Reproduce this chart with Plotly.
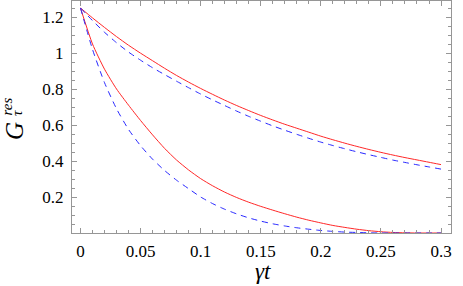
import plotly.graph_objects as go

# gamma*t sample points
t_vals = [0, 0.01, 0.02, 0.03, 0.04, 0.05, 0.06, 0.07, 0.08, 0.09, 0.10,
          0.11, 0.12, 0.13, 0.14, 0.15, 0.16, 0.17, 0.18, 0.19, 0.20,
          0.21, 0.22, 0.23, 0.24, 0.25, 0.26, 0.27, 0.28, 0.29, 0.30]

# upper pair (slow decay)
red_upper = [1.25, 1.195, 1.142, 1.091, 1.043, 0.999, 0.957, 0.915, 0.875, 0.838, 0.803,
             0.770, 0.738, 0.708, 0.680, 0.653, 0.628, 0.604, 0.582, 0.560, 0.538,
             0.518, 0.499, 0.481, 0.464, 0.448, 0.433, 0.419, 0.406, 0.393, 0.380]
blue_upper = [1.25, 1.180, 1.115, 1.057, 1.005, 0.960, 0.918, 0.880, 0.843, 0.807, 0.772,
              0.739, 0.708, 0.677, 0.648, 0.621, 0.595, 0.571, 0.548, 0.526, 0.505,
              0.486, 0.468, 0.451, 0.435, 0.420, 0.405, 0.392, 0.379, 0.367, 0.355]

# lower pair (fast decay)
red_lower = [1.25, 1.05, 0.91, 0.80, 0.71, 0.625, 0.545, 0.470, 0.405, 0.350, 0.302,
             0.262, 0.227, 0.197, 0.171, 0.148, 0.127, 0.107, 0.088, 0.071, 0.056,
             0.042, 0.031, 0.021, 0.013, 0.007, 0.003, 0.001, 0.0, 0.0, 0.0]
blue_lower = [1.25, 1.02, 0.835, 0.69, 0.575, 0.485, 0.410, 0.347, 0.293, 0.246, 0.200,
              0.163, 0.132, 0.106, 0.084, 0.066, 0.051, 0.039, 0.029, 0.021, 0.014,
              0.009, 0.005, 0.003, 0.001, 0.0, 0.0, 0.0, 0.0, 0.0, 0.0]

x_ticks = [0, 0.05, 0.1, 0.15, 0.2, 0.25, 0.3]
x_tick_labels = ["0", "0.05", "0.1", "0.15", "0.2", "0.25", "0.3"]
y_ticks = [0.2, 0.4, 0.6, 0.8, 1.0, 1.2]
y_tick_labels = ["0.2", "0.4", "0.6", "0.8", "1", "1.2"]

RED = "rgb(255,40,40)"
BLUE = "rgb(40,40,255)"

fig = go.Figure()
for ys, col, dash in [(red_upper, RED, "solid"), (blue_upper, BLUE, "6px,5px"),
                      (red_lower, RED, "solid"), (blue_lower, BLUE, "6px,5px")]:
    fig.add_trace(go.Scatter(x=t_vals, y=ys, mode="lines",
                             line=dict(color=col, width=1, dash=dash, shape="spline", smoothing=0.6),
                             showlegend=False, hoverinfo="skip"))

FONT = "Liberation Serif, Times New Roman, serif"
AX = "rgb(150,150,150)"
common = dict(showline=True, linecolor=AX, linewidth=1, mirror="ticks", ticks="inside",
              tickcolor=AX, ticklen=5, tickwidth=1, showgrid=False, zeroline=False,
              automargin=False,
              tickfont=dict(family=FONT, size=17, color="black"))

fig.update_xaxes(range=[-0.00706, 0.3083], tickvals=x_ticks, ticktext=x_tick_labels,
                 minor=dict(dtick=0.01, tick0=0, ticks="inside", ticklen=3, tickcolor=AX, showgrid=False),
                 ticklabelstandoff=3, **common)
fig.update_yaxes(range=[0, 1.2889], tickvals=y_ticks, ticktext=y_tick_labels,
                 minor=dict(dtick=0.05, tick0=0, ticks="inside", ticklen=3, tickcolor=AX, showgrid=False),
                 ticklabelstandoff=4, **common)

W, H = 463, 286
L, R, T, B = 72, 12, 1, 53
pw, ph = W - L - R, H - T - B


def px(xp, yp):
    return (xp - L) / pw, (H - B - yp) / ph


annots = []
gx, gy = px(14.5, 131.5)
annots.append(dict(text="<i>G</i>", x=gx, y=gy, font=dict(family=FONT, size=25, color="black")))
rx, ry = px(6, 106.5)
annots.append(dict(text="<i>res</i>", x=rx, y=ry, font=dict(family=FONT, size=15, color="black")))
tx, ty = px(16.5, 112.5)
annots.append(dict(text="<i>τ</i>", x=tx, y=ty, font=dict(family=FONT, size=15, color="black")))
for a in annots:
    a.update(xref="paper", yref="paper", showarrow=False, textangle=-90,
             xanchor="center", yanchor="middle")
lx, ly = px(263, 271)
annots.append(dict(text="<i>γt</i>", x=lx, y=ly, xref="paper", yref="paper", showarrow=False,
                   xanchor="center", yanchor="middle", font=dict(family=FONT, size=23, color="black")))

fig.update_layout(width=W, height=H, margin=dict(l=L, r=R, t=T, b=B),
                  paper_bgcolor="white", plot_bgcolor="white", annotations=annots)

fig.write_html("out.html", config={"displayModeBar": False},
               post_script="document.body.style.margin='0';document.body.style.padding='0';")
